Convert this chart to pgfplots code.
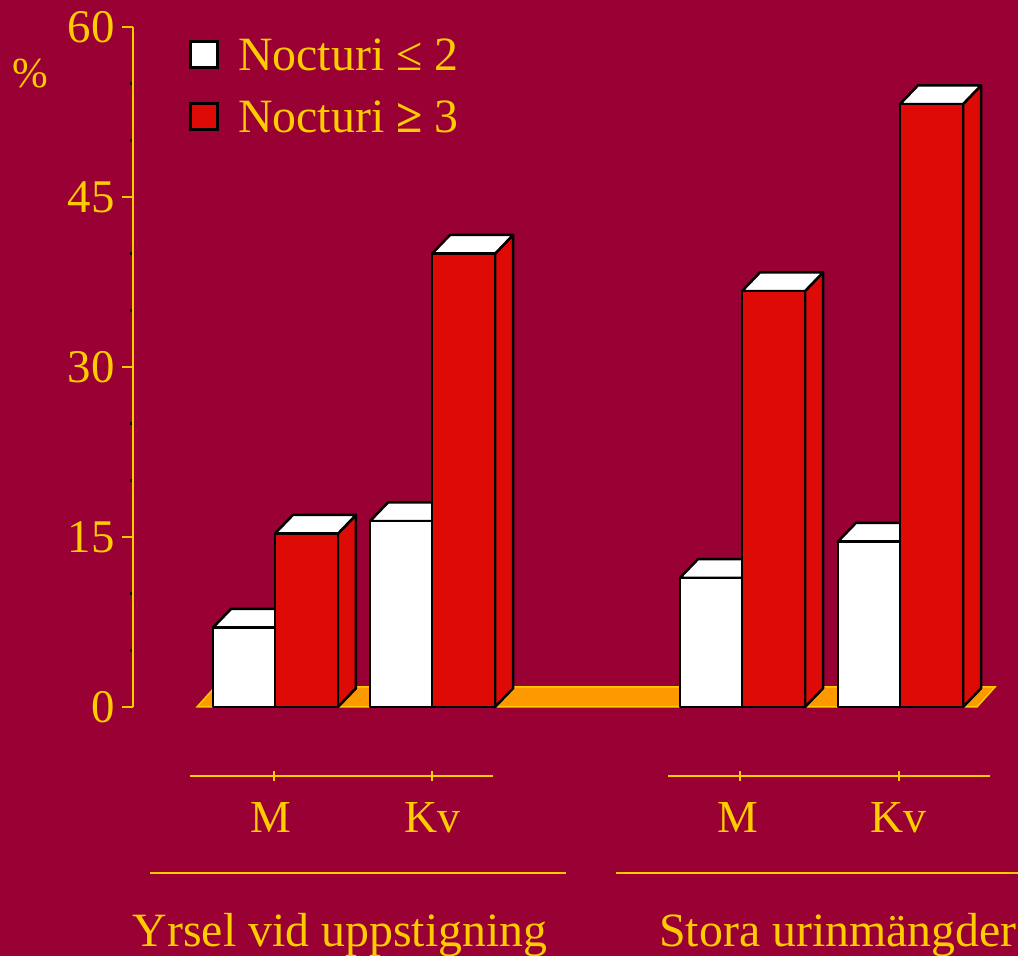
\documentclass[border=0pt]{standalone}
\usepackage{pgfplots}
\pgfplotsset{compat=1.18}
\usepackage{pgfplotstable}
\usepackage{fontspec}
\setmainfont{Liberation Serif}
\definecolor{bg}{RGB}{153,0,51}
\definecolor{gold}{RGB}{255,204,0}
\definecolor{barred}{RGB}{221,10,5}
\definecolor{floorc}{RGB}{255,153,0}

\pgfplotstableread{
x v
0 7.0
0.994 16.4
2.956 11.4
3.956 14.6
}\whitedata
\pgfplotstableread{
x v
0 15.3
0.994 40.0
2.956 36.7
3.956 53.2
}\reddata

\pgfdeclareplotmark{nothing}{}

\newcommand\drawbox[3]{% #1 fill colour, #2 left, #3 right (bp)
  \pgfkeys{/pgf/fpu=true,/pgf/fpu/output format=fixed}%
  \pgfmathparse{\val*680/60}\let\barh\pgfmathresult
  \pgfmathparse{#3+18}\let\bxr\pgfmathresult
  \pgfmathparse{#2+18}\let\bxl\pgfmathresult
  \pgfmathparse{18.7-\barh}\let\bsb\pgfmathresult
  \pgfkeys{/pgf/fpu=false}%
  \filldraw[fill=#1,draw=black,line width=2.5bp,line join=round]
    (#3 bp,0bp) -- (\bxr bp,18.7bp) -- (\bxr bp,\bsb bp) -- (#3 bp,-\barh bp) -- cycle;
  \filldraw[fill=white,draw=black,line width=2.5bp,line join=round]
    (#2 bp,0bp) -- (\bxl bp,18.7bp) -- (\bxr bp,18.7bp) -- (#3 bp,0bp) -- cycle;
  \filldraw[fill=#1,draw=black,line width=2.5bp,line join=round]
    (#2 bp,-\barh bp) rectangle (#3 bp,0bp);
}

\begin{document}
\begin{tikzpicture}
\fill[bg] (0,0) rectangle (1018bp,956bp);
% floor
\filldraw[fill=floorc,draw=gold,line width=1.5bp]
  (197bp,249bp) -- (977bp,249bp) -- (995bp,269bp) -- (215bp,269bp) -- cycle;
\begin{axis}[
  at={(133bp,249bp)}, anchor=south west,
  scale only axis, width=885bp, height=680bp,
  xmin=-0.8987, xmax=4.7025, ymin=0, ymax=60,
  clip=false,
  hide x axis,
  axis y line*=left,
  y axis line style={gold, line width=2.5bp},
  ytick={0,15,30,45,60},
  minor ytick={5,10,20,25,35,40,50,55},
  tick align=outside,
  major tick length=11bp, minor tick length=3bp,
  every major tick/.append style={gold, line width=2.5bp},
  every minor tick/.append style={black, line width=2.5bp},
  /pgf/number format/assume math mode=true,
  yticklabel style={text=gold, font=\fontsize{47}{52}\selectfont, xshift=-4bp},
  legend style={at={(0.0633,0.9855)}, anchor=north west, draw=none, fill=none,
    inner sep=0pt, text=gold, font=\fontsize{48}{54}\selectfont, row sep=25bp,
    /tikz/every odd column/.append style={column sep=17bp}},
  legend cell align=left,
]
\addlegendimage{legend image code/.code={\filldraw[fill=white,draw=black,line width=3bp] (0bp,-12bp) rectangle (27bp,14bp);}}
\addlegendentry{Nocturi ≤ 2}
\addlegendimage{legend image code/.code={\filldraw[fill=barred,draw=black,line width=3bp] (0bp,-12bp) rectangle (27bp,14bp);}}
\addlegendentry{Nocturi \textbf{≥} 3}

\addplot[forget plot, scatter, only marks, mark=nothing,
  visualization depends on={y \as \val},
  scatter/@pre marker code/.code={\begin{scope}\drawbox{white}{-62}{0}},
  scatter/@post marker code/.code={\end{scope}},
] table[x=x,y=v] {\whitedata};
\addplot[forget plot, scatter, only marks, mark=nothing,
  visualization depends on={y \as \val},
  scatter/@pre marker code/.code={\begin{scope}\drawbox{barred}{0}{63}},
  scatter/@post marker code/.code={\end{scope}},
] table[x=x,y=v] {\reddata};
\end{axis}
% percent label
\node[text=gold, font=\fontsize{43}{48}\selectfont] at (30.5bp,882bp) {\%};
% category axes
\begin{scope}[gold, line width=2bp]
\draw (190bp,180bp) -- (493bp,180bp);
\draw (274bp,175bp) -- (274bp,185bp);
\draw (432bp,175bp) -- (432bp,185bp);
\draw (668bp,180bp) -- (990bp,180bp);
\draw (740bp,175bp) -- (740bp,185bp);
\draw (899bp,175bp) -- (899bp,185bp);
\draw (150bp,83bp) -- (566bp,83bp);
\draw (616bp,83bp) -- (1018bp,83bp);
\end{scope}
\begin{scope}[every node/.style={text=gold, font=\fontsize{46}{52}\selectfont, anchor=base, inner sep=0pt}]
\node at (271bp,123bp) {M};
\node at (432bp,123bp) {Kv};
\node at (738bp,123bp) {M};
\node at (898bp,123bp) {Kv};
\end{scope}
\begin{scope}[every node/.style={text=gold, font=\fontsize{48}{54}\selectfont, anchor=base, inner sep=0pt}]
\node at (340bp,10bp) {Yrsel vid uppstigning};
\node at (838bp,10bp) {Stora urinmängder};
\end{scope}
\pgfresetboundingbox
\path (0,0) rectangle (1018bp,956bp);
\end{tikzpicture}
\end{document}
